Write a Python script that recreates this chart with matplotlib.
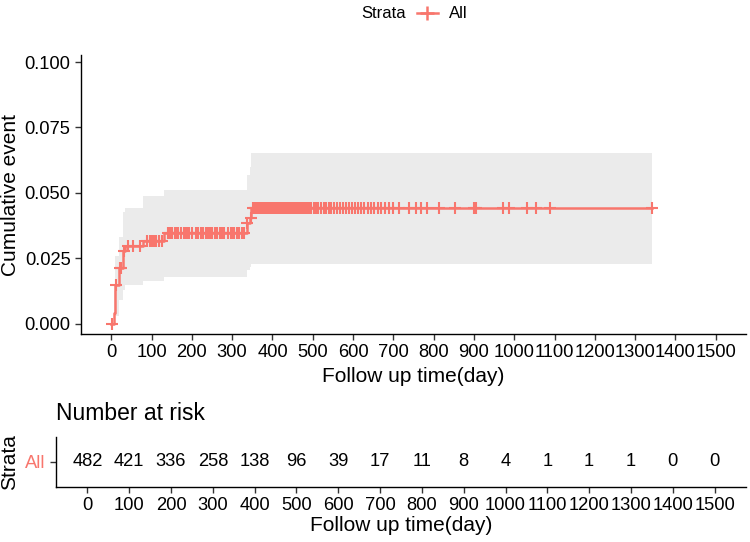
import matplotlib
matplotlib.use("Agg")
import matplotlib.pyplot as plt
from matplotlib.lines import Line2D
import numpy as np

plt.rcParams.update({
    'font.family': ['Liberation Sans', 'DejaVu Sans'],
    'axes.linewidth': 1.0,
})

RED = "#F8766D"
BAND = "#EBEBEB"

# step curve of the cumulative event (time in days)
event_time = [0, 6, 10, 20, 30, 35, 80, 130, 336, 344, 348]
cum_event = [0.0, 0.0041, 0.0149, 0.0212, 0.0276, 0.0295, 0.0314, 0.0346,
             0.0384, 0.0403, 0.0442]
ci_upper = [0.0, 0.0125, 0.0257, 0.0330, 0.0425, 0.0440, 0.0486, 0.0509,
            0.0569, 0.0600, 0.0654]
ci_lower = [0.0, 0.0, 0.0030, 0.0090, 0.0130, 0.0146, 0.0162, 0.0178,
            0.0203, 0.0215, 0.0229]
last_time = 1341

# censored observations
censor_time = [3, 12, 22, 24, 32, 42, 55, 72, 88, 95, 100, 105, 110, 118, 125,
               140, 145, 152, 158, 160, 165, 172, 180, 185, 190, 193, 200, 210,
               215, 222, 228, 235, 240, 245, 250, 258, 262, 270, 275, 280, 290,
               296, 300, 305, 312, 318, 325, 330, 338, 346,
               352, 356, 360, 363, 367, 371, 375, 380, 384, 388, 392, 397, 401,
               405, 410, 414, 418, 423, 427, 432, 436, 441, 446, 450, 455, 460,
               466, 470, 475, 480, 486, 491, 496, 502, 508, 514, 520, 527, 533,
               540, 546, 553, 560, 568, 575, 583, 590, 598, 606, 613, 620, 628,
               636, 644, 652, 661, 670, 679, 688, 698,
               715, 738, 755, 769, 783, 814, 854, 901, 905, 971, 986, 1031,
               1055, 1088, 1341]

# number at risk table
risk_time = list(range(0, 1501, 100))
n_risk = [482, 421, 336, 258, 138, 96, 39, 17, 11, 8, 4, 1, 1, 1, 0, 0]

W, H = 750, 542
fig = plt.figure(figsize=(W / 100, H / 100), dpi=100)


def frac(left, top, right, bottom):
    return [left / W, 1 - bottom / H, (right - left) / W, (bottom - top) / H]


ax = fig.add_axes(frac(81, 55, 746, 334))
ax_r = fig.add_axes(frac(56, 437, 746, 487))

t = np.array(event_time + [last_time])
y = np.array(cum_event + [cum_event[-1]])
up = np.array(ci_upper + [ci_upper[-1]])
lo = np.array(ci_lower + [ci_lower[-1]])

ax.fill_between(t, lo, up, step="post", color=BAND, linewidth=0, zorder=1)
ax.step(t, y, where="post", color=RED, linewidth=1.8, zorder=2)

idx = np.searchsorted(event_time, censor_time, side="right") - 1
cy = np.array(cum_event)[idx]
ax.plot(censor_time, cy, linestyle="none", marker="+", color=RED,
        markersize=8, markeredgewidth=1.5, zorder=3)

for a in (ax, ax_r):
    a.set_xlim(-75, 1575)
    a.set_xticks(risk_time)
    a.set_xticklabels([str(v) for v in risk_time])
    a.spines["top"].set_visible(False)
    a.spines["right"].set_visible(False)
    a.tick_params(axis="both", labelsize=13.2, length=4, width=1,
                  color="#333333", labelcolor="black", pad=3.5)

ax.set_xlabel("Follow up time(day)", fontsize=15, labelpad=4)
ax_r.set_xlabel("Follow up time(day)", fontsize=15, labelpad=1)

ax.set_ylim(-0.004, 0.1027)
ax.set_yticks([0, 0.025, 0.05, 0.075, 0.1])
ax.set_yticklabels(["0.000", "0.025", "0.050", "0.075", "0.100"])
ax.set_ylabel("Cumulative event", fontsize=15, labelpad=3)

ax_r.set_ylim(-0.5, 0.5)
ax_r.set_yticks([0])
ax_r.set_yticklabels(["All"])
ax_r.get_yticklabels()[0].set_color(RED)
ax_r.set_ylabel("Strata", fontsize=15, labelpad=4)
ax_r.set_title("Number at risk", loc="left", fontsize=16.5, pad=12)
for tt, n in zip(risk_time, n_risk):
    ax_r.text(tt, 0, str(n), ha="center", va="center", fontsize=13.2)

# legend on top: "Strata  + All"
ly = 1 - 13 / H
fig.text(384 / W, ly, "Strata", ha="center", va="center", fontsize=12)
fig.add_artist(Line2D([417 / W, 438 / W], [ly, ly], color=RED, linewidth=1.8,
                      transform=fig.transFigure))
fig.add_artist(Line2D([427.5 / W], [ly], color=RED, marker="+", markersize=10,
                      markeredgewidth=1.8, transform=fig.transFigure))
fig.text(449 / W, ly, "All", ha="left", va="center", fontsize=12)

fig.savefig("out.png", dpi=100)
